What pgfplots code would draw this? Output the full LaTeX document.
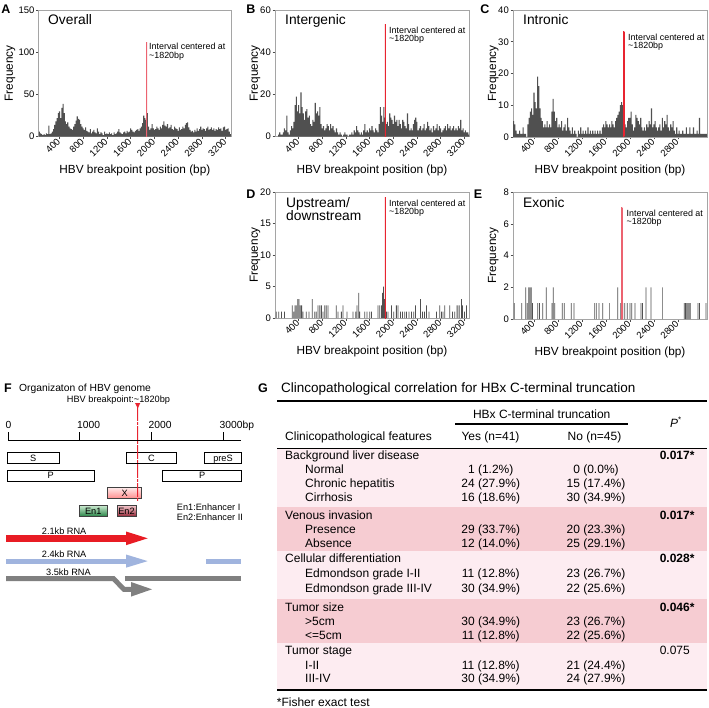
\documentclass[border=0pt]{standalone}
\usepackage{fontspec}
\setmainfont{Liberation Sans}
\usepackage{pgfplots}
\usepackage{pgfplotstable}
\pgfplotsset{compat=1.18}

\definecolor{barfill}{RGB}{80,80,80}
\definecolor{framegray}{RGB}{165,165,165}
\definecolor{hbvred}{rgb}{0.91,0.14,0.19}
\definecolor{hbvpink}{rgb}{0.925,0.39,0.44}
\definecolor{rnared}{RGB}{232,28,36}
\definecolor{rnablue}{RGB}{160,180,222}
\definecolor{rnagray}{RGB}{128,128,128}
\definecolor{bandlight}{RGB}{253,236,241}
\definecolor{banddark}{RGB}{246,204,210}

% 20 bp bins: overall (A), intergenic (B), intronic (C)
\pgfplotstableread{
x A B C
60 6 1 5
80 4 2 4
100 3 1 2
120 2 1 1
140 3 2 1
160 2 4 2
180 4 3 1
200 3 10 1
220 13 2 3
240 3 1 1
260 4 3 1
280 6 5 0
300 9 4 4
320 14 7 6
340 18 15 8
360 22 19 9
380 28 12 7
400 30 15 14
420 22 11 11
440 34 21 9
460 39 14 19
480 28 11 16
500 18 8 9
520 15 12 6
540 17 13 5
560 12 9 3
580 10 10 4
600 9 6 3
620 8 5 5
640 12 8 3
660 15 7 4
680 19 16 3
700 24 11 8
720 21 12 12
740 20 10 8
760 15 14 5
780 12 6 6
800 10 4 3
820 8 5 4
840 11 3 3
860 7 4 5
880 6 6 2
900 5 5 3
920 9 3 4
940 4 6 2
960 6 4 6
980 8 5 3
1000 5 3 2
1020 4 2 1
1040 10 4 3
1060 6 2 1
1080 3 1 2
1100 5 2 1
1120 4 1 0
1140 2 0 2
1160 6 1 1
1180 3 2 3
1200 4 1 1
1220 3 1 2
1240 5 0 1
1260 3 1 2
1280 4 1 1
1300 2 2 3
1320 5 1 1
1340 3 3 2
1360 4 2 1
1380 6 5 2
1400 9 3 1
1420 5 2 2
1440 4 1 1
1460 3 2 2
1480 5 1 1
1500 6 3 2
1520 4 6 1
1540 7 2 3
1560 5 3 4
1580 6 2 3
1600 10 4 5
1620 8 3 4
1640 6 5 3
1660 5 3 4
1680 7 2 3
1700 8 4 5
1720 9 3 4
1740 7 2 3
1760 10 6 5
1780 12 14 6
1800 16 10 7
1820 25 7 8
1840 22 14 10
1860 20 9 11
1880 28 6 10
1900 12 7 5
1920 8 5 4
1940 10 11 3
1960 15 9 5
1980 10 8 6
2000 8 6 6
2020 9 10 8
2040 12 7 4
2060 10 8 2
2080 8 5 3
2100 12 8 7
2120 10 6 6
2140 14 4 5
2160 18 8 4
2180 13 7 6
2200 12 5 3
2220 15 4 2
2240 10 11 3
2260 11 6 2
2280 14 3 4
2300 9 4 3
2320 8 3 5
2340 12 6 4
2360 10 8 9
2380 9 9 3
2400 7 7 4
2420 11 3 5
2440 8 4 3
2460 9 5 2
2480 12 3 3
2500 10 4 4
2520 14 6 2
2540 16 3 6
2560 17 4 3
2580 11 7 5
2600 8 5 4
2620 6 3 7
2640 7 4 3
2660 5 2 2
2680 8 5 4
2700 6 3 3
2720 10 4 5
2740 7 6 2
2760 9 3 1
2780 12 5 3
2800 8 4 1
2820 10 2 2
2840 9 3 1
2860 7 4 1
2880 10 5 2
2900 12 3 1
2920 8 6 1
2940 9 4 3
2960 11 5 1
2980 8 3 1
3000 10 4 3
3020 7 5 1
3040 9 3 1
3060 8 4 3
3080 11 3 1
3100 9 5 1
3120 10 4 2
3140 7 8 1
3160 11 3 6
3180 12 4 1
3200 8 2 1
3220 9 3 1
3240 10 2 1
3260 6 2 1
3280 3 1 1
}\dense

\pgfplotsset{
  hist/.style={
    scale only axis, anchor=south west,
    axis line style={framegray, line width=0.7pt},
    enlargelimits=false, ymin=0,
    tick pos=left, tick align=outside,
    major tick length=2.5pt,
    tick style={black!70, line width=0.5pt},
    /pgf/number format/assume math mode=true,
    /pgf/number format/1000 sep={},
    ticklabel style={font=\fontsize{9.5}{11}\selectfont},
    xticklabel style={rotate=45, anchor=east, inner sep=1pt},
    yticklabel style={inner sep=1.5pt},
    xlabel={HBV breakpoint position (bp)},
    ylabel={Frequency},
    label style={font=\fontsize{11.8}{13}\selectfont},
    xlabel style={at={(axis description cs:0.5,-0.265)}, anchor=center},
  },
  hbar/.style={ybar, fill=barfill, draw=none},
}

\tikzset{
  f89/.style={font=\fontsize{8.9}{10}\selectfont, inner sep=0pt, yshift=-3.2pt},
  f9/.style={font=\fontsize{9.2}{11}\selectfont, inner sep=0pt, yshift=-3.3pt},
  f10/.style={font=\fontsize{10.3}{12}\selectfont, inner sep=0pt, yshift=-3.7pt},
  f12/.style={font=\fontsize{12}{14}\selectfont, inner sep=0pt, yshift=-4.3pt},
  f135/.style={font=\fontsize{13.5}{15}\selectfont, inner sep=0pt, yshift=-4.85pt},
  f14/.style={font=\fontsize{13.8}{15}\selectfont, inner sep=0pt, yshift=-5pt},
  lett/.style={font=\fontsize{12.5}{14}\selectfont\bfseries, inner sep=0pt, yshift=-4.5pt},
}

% marker line as a flat shading (thin plain fills come out black here)
\newcommand{\vmark}[3]{%
  \shade[top color=#1, bottom color=#1] ([xshift=-0.6pt]axis cs:#2,0) rectangle ([xshift=0.6pt]axis cs:#2,#3);}

\newcommand{\grp}[3]{%
  \node[f12, anchor=base west] at (285,#1) {#2};
  \node[f12, anchor=base east] at (690,#1) {#3};}
\newcommand{\itm}[4]{%
  \node[f12, anchor=base west] at (305,#1) {#2};
  \node[f12, anchor=base] at (490.7,#1) {#3};
  \node[f12, anchor=base] at (596,#1) {#4};}
\newcommand{\gbox}[5]{%
  \draw[line width=0.8pt, fill=white] (#1,#2) rectangle (#3,#4);
  \node[f9, anchor=base] at ({(#1+#3)/2},{(#2+#4)/2}) {#5};}

\begin{document}
\begin{tikzpicture}
\path[use as bounding box] (0,0) rectangle (709pt,-708pt);

% ---------------- A: overall
\begin{axis}[hist, at={(38.7pt,-136.7pt)}, width=192.3pt, height=126.7pt,
  xmin=50, xmax=3290, ymax=150, ytick={0,50,100,150}, xtick={400,800,...,3200},
  ylabel style={at={(axis description cs:-0.149,0.5)}, anchor=center}]
\addplot[hbar, bar width=18] table[x=x, y=A] {\dense};
\vmark{hbvpink}{1868}{112}
\end{axis}

% ---------------- B: intergenic
\begin{axis}[hist, at={(275pt,-136.7pt)}, width=194pt, height=126.7pt,
  xmin=0, xmax=3280, ymax=60, ytick={0,20,40,60}, xtick={400,800,...,3200},
  ylabel style={at={(axis description cs:-0.103,0.5)}, anchor=center}]
\addplot[hbar, bar width=18] table[x=x, y=B] {\dense};
\vmark{hbvred}{1866}{52.9}
\end{axis}

% ---------------- C: intronic
\begin{axis}[hist, at={(513pt,-137pt)}, width=194pt, height=127pt,
  xmin=50, xmax=3285, ymax=40, ytick={0,10,20,30,40}, xtick={400,800,...,2800},
  ylabel style={at={(axis description cs:-0.101,0.5)}, anchor=center}]
\addplot[hbar, bar width=18] table[x=x, y=C] {\dense};
\vmark{hbvred}{1895}{33.2}
\end{axis}

% ---------------- D: upstream/downstream
\begin{axis}[hist, at={(275pt,-318pt)}, width=194pt, height=126pt,
  xmin=0, xmax=3280, ymax=20, ytick={0,5,10,15,20}, xtick={400,800,...,3200},
  ylabel style={at={(axis description cs:-0.103,0.5)}, anchor=center}]
\addplot[hbar, bar width=13] coordinates {
 (20,1) (65,1) (110,1) (160,1) (293,2) (315,1) (338,2) (360,2) (383,3) (406,3)
 (428,2) (450,2) (473,1) (530,1) (575,1) (631,3) (671,1) (699,1) (727,2) (755,2)
 (784,2) (812,1) (840,2) (868,2) (896,2) (1037,2) (1066,1) (1122,1) (1150,2) (1218,1)
 (1319,1) (1364,1) (1387,2) (1415,4) (1432,1) (1517,1) (1556,1) (1601,1) (1630,1)
 (1743,2) (1771,2) (1799,2) (1816,4) (1833,5) (1850,3) (1883,1) (1912,1) (1968,2)
 (2007,1) (2052,2) (2081,2) (2120,1) (2154,1) (2194,1) (2222,1) (2267,1) (2306,1)
 (2346,1) (2374,2) (2459,3) (2493,1) (2526,1) (2560,2) (2605,1) (2729,1) (2786,2)
 (2814,1) (2842,1) (2870,2) (2955,2) (3000,1) (3040,1) (3079,2) (3113,2) (3152,3)
 (3169,2) (3203,1) (3237,2)};
\vmark{hbvred}{1866}{19.2}
\end{axis}

% ---------------- E: exonic
\begin{axis}[hist, at={(513pt,-319pt)}, width=194pt, height=127pt,
  xmin=50, xmax=3285, ymax=8, ytick={0,2,4,6,8}, xtick={400,800,...,2800},
  ylabel style={at={(axis description cs:-0.101,0.5)}, anchor=center}]
\addplot[hbar, bar width=12] coordinates {
 (72,1) (195,1) (262,2) (288,1) (312,2) (333,2) (355,2) (375,1) (461,1) (490,1)
 (545,1) (605,2) (700,1) (722,2) (745,1) (872,1) (905,1) (1022,1) (1067,1)
 (1411,1) (1438,1) (1483,1) (1545,1) (1661,1) (1795,2) (1845,1) (1880,1) (1912,1)
 (1955,1) (2000,1) (2030,1) (2083,1) (2183,1) (2210,1) (2267,2) (2350,2) (2545,2)
 (2905,1) (2925,1) (2945,1) (2965,1) (2985,1) (3005,1) (3133,1) (3160,1) (3267,1)};
\vmark{hbvpink}{1862}{7.04}
\end{axis}

\begin{scope}[x=1pt,y=-1pt]
% panel letters and in-panel text
\node[lett, anchor=base] at (6,9) {A};
\node[lett, anchor=base] at (251,9) {B};
\node[lett, anchor=base] at (485,9) {C};
\node[lett, anchor=base] at (251,194) {D};
\node[lett, anchor=base] at (478,194) {E};
\node[f14, anchor=base west] at (48,20) {Overall};
\node[f14, anchor=base west] at (285,20) {Intergenic};
\node[f14, anchor=base west] at (523,20) {Intronic};
\node[f14, anchor=base west] at (286,203) {Upstream/};
\node[f14, anchor=base west] at (286,216) {downstream};
\node[f14, anchor=base west] at (523,203) {Exonic};
\foreach \px/\py in {149/46.7, 389/30, 628/37, 389/203, 626.5/213}{
  \node[f89, anchor=base west] at (\px,\py) {Interval centered at};
  \node[f89, anchor=base west] at (\px,\py+8.8) {\textasciitilde1820bp};
}

% ---------------- F: HBV genome
\node[lett, anchor=base] at (8,388) {F};
\node[f10, anchor=base west] at (19,388) {Organizaton of HBV genome};
\node[f9, anchor=base] at (118.5,399) {HBV breakpoint:\textasciitilde1820bp};
\fill (8,439.55) rectangle (241,440.45);
\foreach \t in {8,79.7,151.4,223.1} \fill (\t-0.45,432) rectangle (\t+0.45,440);
\node[f10, anchor=base west] at (5.5,425) {0};
\node[f10, anchor=base west] at (77,425) {1000};
\node[f10, anchor=base west] at (148.5,425) {2000};
\node[f10, anchor=base west] at (219.5,425) {3000bp};
\gbox{7.3}{452.7}{59}{463.3}{S}
\gbox{126.7}{452.7}{176}{463.3}{C}
\gbox{204.3}{452.7}{241.7}{463.3}{preS}
\gbox{7.3}{470}{94.3}{481}{P}
\gbox{162.7}{470}{241.7}{481}{P}
\shade[top color=red!8, bottom color=red!45] (107.7,487.3) rectangle (141.7,498.7);
\draw[line width=0.8pt, black!75] (107.7,487.3) rectangle (141.7,498.7);
\node[f9, anchor=base] at (124.7,493) {X};
\shade[top color={rgb,255:red,205;green,236;blue,210}, bottom color={rgb,255:red,45;green,135;blue,75}] (79,505.3) rectangle (107.3,516);
\draw[line width=0.8pt, black!75] (79,505.3) rectangle (107.3,516);
\node[f9, anchor=base] at (93.2,510.7) {En1};
\shade[top color={rgb,255:red,245;green,200;blue,205}, bottom color={rgb,255:red,150;green,45;blue,60}] (117,505.3) rectangle (136,516);
\draw[line width=0.8pt, black!75] (117,505.3) rectangle (136,516);
\node[f9, anchor=base] at (126.5,510.7) {En2};
\node[f9, anchor=base west] at (176.7,507) {En1:Enhancer I};
\node[f9, anchor=base west] at (176.7,517.5) {En2:Enhancer II};
% breakpoint marker: dashes as flat shadings
\foreach \d in {0,...,24} \shade[top color=hbvred, bottom color=hbvred] (137.2,407+3.8*\d) rectangle (138.2,409.4+3.8*\d);
\fill[hbvred] (135.1,403) -- (140.3,403) -- (137.7,408.5) -- cycle;
% RNAs
\node[f9, anchor=base west] at (41.7,531) {2.1kb RNA};
\fill[rnared] (6,535) rectangle (127,541.7);
\fill[rnared] (126,531.5) -- (147.7,538.3) -- (126,545.2) -- cycle;
\node[f9, anchor=base west] at (41.7,554.5) {2.4kb RNA};
\fill[rnablue] (6,558.7) rectangle (127,563.5);
\fill[rnablue] (126,554.5) -- (147.7,561.1) -- (126,567.7) -- cycle;
\fill[rnablue] (205.7,558.7) rectangle (241.3,563.5);
\node[f9, anchor=base west] at (46,572) {3.5kb RNA};
\fill[rnagray] (6,576) -- (114.3,576) -- (125,586.8) -- (132,586.8) -- (132,591.8) -- (123,591.8) -- (112.3,581) -- (6,581) -- cycle;
\fill[rnagray] (131,582) -- (152,589.3) -- (131,596.6) -- cycle;
\fill[rnagray] (125,576) rectangle (241.3,581);

% ---------------- G: table
\node[lett, anchor=base] at (263,388) {G};
\node[f135, anchor=base west] at (281,388) {Clincopathological correlation for HBx C-terminal truncation};
\fill[bandlight] (277,448.3) rectangle (707,507.3);
\fill[banddark] (277,507.3) rectangle (707,550.7);
\fill[bandlight] (277,550.7) rectangle (707,599);
\fill[banddark] (277,599) rectangle (707,642.7);
\fill[bandlight] (277,642.7) rectangle (707,690);
\fill (277,400) rectangle (707,402);
\fill (277,447.5) rectangle (707,449.1);
\fill (277,689) rectangle (707,691);
\node[f12, anchor=base] at (541.7,414) {HBx C-terminal truncation};
\fill (455,423.4) rectangle (628.3,424.6);
\node[f12, anchor=base] at (676,423) {\textit{P}\textsuperscript{*}};
\node[f12, anchor=base west] at (285,435.7) {Clinicopathological features};
\node[f12, anchor=base] at (490.5,435.7) {Yes (n=41)};
\node[f12, anchor=base] at (594.5,435.7) {No (n=45)};
\grp{455}{Background liver disease}{\bfseries 0.017\rlap{*}}
\itm{469}{Normal}{1 (1.2\%)}{0 (0.0\%)}
\itm{483.3}{Chronic hepatitis}{24 (27.9\%)}{15 (17.4\%)}
\itm{497.3}{Cirrhosis}{16 (18.6\%)}{30 (34.9\%)}
\grp{515}{Venous invasion}{\bfseries 0.017\rlap{*}}
\itm{529}{Presence}{29 (33.7\%)}{20 (23.3\%)}
\itm{543.3}{Absence}{12 (14.0\%)}{25 (29.1\%)}
\grp{558.3}{Cellular differentiation}{\bfseries 0.028\rlap{*}}
\itm{573.3}{Edmondson grade I-II}{11 (12.8\%)}{23 (26.7\%)}
\itm{587.7}{Edmondson grade III-IV}{30 (34.9\%)}{22 (25.6\%)}
\grp{606.7}{Tumor size}{\bfseries 0.046\rlap{*}}
\itm{621}{>5cm}{30 (34.9\%)}{23 (26.7\%)}
\itm{635}{<=5cm}{11 (12.8\%)}{22 (25.6\%)}
\grp{650}{Tumor stage}{0.075}
\itm{665}{I-II}{11 (12.8\%)}{21 (24.4\%)}
\itm{678.3}{III-IV}{30 (34.9\%)}{24 (27.9\%)}
\node[f12, anchor=base west] at (276.7,701.7) {*Fisher exact test};
\end{scope}
\end{tikzpicture}
\end{document}
